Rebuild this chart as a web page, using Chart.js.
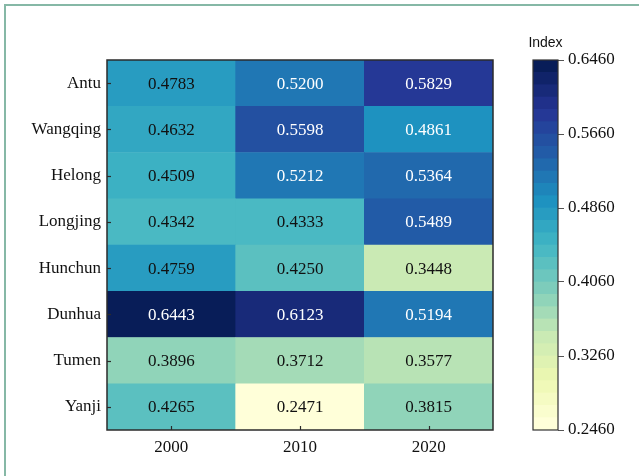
<!DOCTYPE html>
<html>
<head>
<meta charset="utf-8">
<script src="https://cdn.jsdelivr.net/npm/chart.js@4/dist/chart.umd.min.js"></script>
<style>
  html, body { margin: 0; padding: 0; background: #fff; overflow: hidden; }
  #wrap { position: relative; width: 639px; height: 476px; overflow: hidden; }
  #frame { position: absolute; left: 4px; top: 4px; width: 700px; height: 600px;
           border-top: 2px solid #86b8a6; border-left: 2px solid #86b8a6; }
  canvas { position: absolute; left: 0; top: 0; }
</style>
</head>
<body>
<div id="wrap">
  <div id="frame"></div>
  <canvas id="heat" width="639" height="476"></canvas>
  <canvas id="bar" width="639" height="476"></canvas>
</div>
<script>
// Rows (top to bottom) and columns of the heatmap
const counties = ['Antu', 'Wangqing', 'Helong', 'Longjing', 'Hunchun', 'Dunhua', 'Tumen', 'Yanji'];
const years = ['2000', '2010', '2020'];

// Index value per county, one array per year
const index2000 = [0.4783, 0.4632, 0.4509, 0.4342, 0.4759, 0.6443, 0.3896, 0.4265];
const index2010 = [0.5200, 0.5598, 0.5212, 0.4333, 0.4250, 0.6123, 0.3712, 0.2471];
const index2020 = [0.5829, 0.4861, 0.5364, 0.5489, 0.3448, 0.5194, 0.3577, 0.3815];

// Colour bar range and its tick labels
const colorMin = 0.2460;
const colorMax = 0.6460;
const colorbarTicks = [0.2460, 0.3260, 0.4060, 0.4860, 0.5660, 0.6460];
const colorLevels = 30;
const whiteTextAbove = 0.48;

const SERIF = "'Liberation Serif', 'Times New Roman', serif";
Chart.defaults.font.family = SERIF;
Chart.defaults.color = '#111';

// YlGnBu colour map
const ylgnbu = ['#ffffd9', '#edf8b1', '#c7e9b4', '#7fcdbb', '#41b6c4', '#1d91c0', '#225ea8', '#253494', '#081d58'];
function hexToRgb(h) { return [1, 3, 5].map(i => parseInt(h.substr(i, 2), 16)); }
const stops = ylgnbu.map(hexToRgb);
function cmap(t) {
  t = Math.min(1, Math.max(0, t));
  const p = t * (stops.length - 1);
  const i = Math.min(stops.length - 2, Math.floor(p));
  const f = p - i;
  const c = stops[i].map((a, k) => Math.round(a + (stops[i + 1][k] - a) * f));
  return `rgb(${c[0]},${c[1]},${c[2]})`;
}
const levelColors = Array.from({ length: colorLevels }, (_, i) => cmap(i / (colorLevels - 1)));
function colorFor(v) {
  let b = Math.floor((v - colorMin) / (colorMax - colorMin) * colorLevels);
  b = Math.min(colorLevels - 1, Math.max(0, b));
  return levelColors[b];
}

// ---------- heatmap ----------
const byYear = [index2000, index2010, index2020];
const rowOrderBottomUp = counties.map((_, i) => i).reverse();
const heatDatasets = rowOrderBottomUp.map(r => {
  const vals = byYear.map(col => col[r]);
  return {
    label: counties[r],
    data: years.map(() => 1),
    values: vals,
    backgroundColor: vals.map(colorFor),
    borderWidth: 0,
    barPercentage: 1,
    categoryPercentage: 1,
    stack: 'cells',
    yAxisID: 'v'
  };
});

const heatDecor = {
  id: 'heatDecor',
  afterDatasetsDraw(chart) {
    const ctx = chart.ctx;
    const a = chart.chartArea;
    ctx.save();
    ctx.font = `17px ${SERIF}`;
    ctx.textAlign = 'center';
    ctx.textBaseline = 'middle';
    chart.data.datasets.forEach((ds, di) => {
      chart.getDatasetMeta(di).data.forEach((bar, j) => {
        const v = ds.values[j];
        ctx.fillStyle = v > whiteTextAbove ? '#ffffff' : '#111111';
        ctx.fillText(v.toFixed(4), bar.x, (bar.y + bar.base) / 2 + 1);
      });
    });
    // frame
    ctx.strokeStyle = '#2b2b2b';
    ctx.lineWidth = 1.5;
    ctx.strokeRect(a.left, a.top, a.right - a.left, a.bottom - a.top);
    // inward tick marks
    ctx.lineWidth = 1.2;
    const ys = chart.scales.y, xs = chart.scales.x;
    ys.ticks.forEach((t, i) => {
      const py = Math.round(ys.getPixelForTick(i)) + 0.5;
      ctx.beginPath(); ctx.moveTo(a.left, py); ctx.lineTo(a.left + 4, py); ctx.stroke();
    });
    xs.ticks.forEach((t, i) => {
      const px = Math.round(xs.getPixelForTick(i)) + 0.5;
      ctx.beginPath(); ctx.moveTo(px, a.bottom); ctx.lineTo(px, a.bottom - 4); ctx.stroke();
    });
    ctx.restore();
  }
};

new Chart(document.getElementById('heat'), {
  type: 'bar',
  data: { labels: years, datasets: heatDatasets },
  options: {
    responsive: false,
    animation: false,
    devicePixelRatio: 1,
    layout: { padding: { left: 7, top: 60, right: 146, bottom: 0 } },
    plugins: { legend: { display: false }, tooltip: { enabled: false } },
    scales: {
      x: {
        type: 'category', labels: years, stacked: true, offset: true,
        grid: { display: false, drawTicks: false }, border: { display: false },
        ticks: { font: { size: 17 }, color: '#111', padding: 7 },
        afterFit(s) { s.height = 46; }
      },
      y: {
        type: 'category', labels: counties, position: 'left', offset: true,
        grid: { display: false, drawTicks: false }, border: { display: false },
        ticks: { font: { size: 17 }, color: '#111', padding: 6 },
        afterFit(s) { s.width = 100; }
      },
      v: { type: 'linear', stacked: true, min: 0, max: counties.length, display: false }
    }
  },
  plugins: [heatDecor]
});

// ---------- colour bar ----------
const step = (colorMax - colorMin) / colorLevels;
const barDatasets = levelColors.map((c, i) => ({
  data: [[colorMin + i * step, colorMin + (i + 1) * step]],
  backgroundColor: c,
  borderWidth: 0,
  grouped: false,
  barPercentage: 1,
  categoryPercentage: 1
}));

const barDecor = {
  id: 'barDecor',
  afterDatasetsDraw(chart) {
    const ctx = chart.ctx;
    const a = chart.chartArea;
    ctx.save();
    ctx.strokeStyle = '#333';
    ctx.lineWidth = 1.2;
    ctx.strokeRect(a.left, a.top, a.right - a.left, a.bottom - a.top);
    ctx.fillStyle = '#111';
    ctx.font = "14px 'Liberation Sans', Arial, sans-serif";
    ctx.textAlign = 'center';
    ctx.textBaseline = 'alphabetic';
    ctx.fillText('Index', (a.left + a.right) / 2, a.top - 13);
    ctx.restore();
  }
};

new Chart(document.getElementById('bar'), {
  type: 'bar',
  data: { labels: [''], datasets: barDatasets },
  options: {
    responsive: false,
    animation: false,
    devicePixelRatio: 1,
    layout: { padding: { left: 533, top: 60, right: 0, bottom: 46 } },
    plugins: { legend: { display: false }, tooltip: { enabled: false } },
    scales: {
      x: { type: 'category', labels: [''], display: false, offset: true },
      y: {
        type: 'linear', position: 'right', min: colorMin, max: colorMax,
        afterBuildTicks(s) { s.ticks = colorbarTicks.map(v => ({ value: v })); },
        ticks: { callback: v => Number(v).toFixed(4), font: { size: 17 }, color: '#111', padding: 4 },
        grid: { drawOnChartArea: false, drawTicks: true, tickLength: 6, color: '#555', lineWidth: 1 },
        border: { display: false },
        afterFit(s) { s.width = 81; }
      }
    }
  },
  plugins: [barDecor]
});
</script>
</body>
</html>
